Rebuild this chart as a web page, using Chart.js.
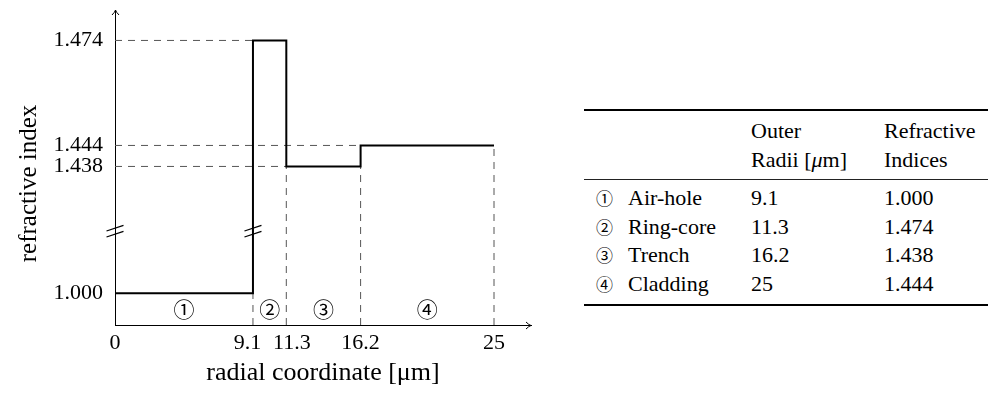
<!DOCTYPE html>
<html>
<head>
<meta charset="utf-8">
<script src="https://cdn.jsdelivr.net/npm/chart.js@4/dist/chart.umd.min.js"></script>
<style>
  html, body { margin: 0; padding: 0; background: #fff; }
  body { width: 989px; height: 398px; position: relative; overflow: hidden;
         font-family: "Liberation Serif", "Times New Roman", serif; color: #000; }
  #wrap { position: absolute; left: 0; top: 0; width: 560px; height: 398px; }
  #tbl { position: absolute; left: 584px; top: 109px; width: 404px;
         border-collapse: separate; border-spacing: 0; table-layout: fixed;
         font-family: "Liberation Serif", "Times New Roman", serif; font-size: 22px; }
  #tbl td { padding: 0; vertical-align: top; white-space: nowrap;
            font-family: "Liberation Serif", "Times New Roman", serif; }
  #tbl thead td { border-top: 2px solid #000; border-bottom: 1px solid #222;
                  padding-top: 5px; padding-bottom: 5px; line-height: 29px; }
  #tbl tbody td { line-height: 28.5px; }
  #tbl tbody tr:first-child td { padding-top: 4px; }
  #tbl tbody tr:last-child td { padding-bottom: 6px; border-bottom: 2px solid #000; }
  #tbl td.c1 { padding-left: 12px; }
  #tbl .mk { display: inline-block; width: 32px; font-family: "Noto Sans CJK JP", "DejaVu Sans", sans-serif; font-size: 17px; }
</style>
</head>
<body>
<div id="wrap"><canvas id="c" width="560" height="398"></canvas></div>
<table id="tbl">
  <colgroup><col style="width:167px"><col style="width:133px"><col style="width:104px"></colgroup>
  <thead>
    <tr><td class="c1"></td><td>Outer<br>Radii [<i>μ</i>m]</td><td>Refractive<br>Indices</td></tr>
  </thead>
  <tbody id="tbody"></tbody>
</table>
<script>
// ---------------- data ----------------
const regionMarks   = ['①', '②', '③', '④'];
const regionNames   = ['Air-hole', 'Ring-core', 'Trench', 'Cladding'];
const outerRadii    = [9.1, 11.3, 16.2, 25];          // µm
const indices       = [1.000, 1.474, 1.438, 1.444];   // refractive index
const xTickValues   = [0, 9.1, 11.3, 16.2, 25];
const xTickLabels   = ['0', '9.1', '11.3', '16.2', '25'];
const yTickValues   = [1.000, 1.438, 1.444, 1.474];
const yTickLabels   = ['1.000', '1.438', '1.444', '1.474'];
const radiiLabels   = ['9.1', '11.3', '16.2', '25'];
const indexLabels   = ['1.000', '1.474', '1.438', '1.444'];

// ---------------- broken y axis ----------------
const BREAK_AT = 1.2;          // values below this sit on the lower stub
const LOWER_SHIFT = 0.4018;    // shift of the lower stub on the axis
const toAxis = v => (v < BREAK_AT ? v + LOWER_SHIFT : v);
const Y_MAX = 1.4827, Y_MIN = 1.3927, Y_BREAK = 1.4195;
const X_MIN = 0, X_MAX = 27.44;

// ---------------- table ----------------
const tb = document.getElementById('tbody');
regionNames.forEach((name, i) => {
  const tr = document.createElement('tr');
  tr.innerHTML = '<td class="c1"><span class="mk">' + regionMarks[i] + '</span>' + name +
                 '</td><td>' + radiiLabels[i] + '</td><td>' + indexLabels[i] + '</td>';
  tb.appendChild(tr);
});

// ---------------- series ----------------
const stepPts = [];
let inner = 0;
indices.forEach((n, i) => {
  stepPts.push({ x: inner, y: toAxis(n) }, { x: outerRadii[i], y: toAxis(n) });
  inner = outerRadii[i];
});

const guideSets = [];
const dashStyle = { borderColor: '#555', borderWidth: 1, borderDash: [7, 6],
                    pointRadius: 0, fill: false, order: 2, tension: 0 };
indices.forEach((n, i) => {
  const start = i === 0 ? 0 : outerRadii[i - 1];
  if (start > 0) {
    guideSets.push(Object.assign({ data: [{ x: 0, y: toAxis(n) }, { x: start, y: toAxis(n) }] }, dashStyle));
  }
  const lower = i < indices.length - 1 ? Math.min(toAxis(n), toAxis(indices[i + 1])) : toAxis(n);
  guideSets.push(Object.assign({ data: [{ x: outerRadii[i], y: Y_MIN }, { x: outerRadii[i], y: lower }] }, dashStyle));
});

// ---------------- decorations plugin ----------------
const decor = {
  id: 'decor',
  afterDraw(chart) {
    const { ctx, chartArea: a, scales: { x, y } } = chart;
    ctx.save();
    ctx.strokeStyle = '#000';
    ctx.fillStyle = '#000';
    // arrow heads
    ctx.lineWidth = 1;
    const L = Math.round(a.left) + 0.5, B = Math.round(a.bottom) + 0.5;
    ctx.beginPath();
    ctx.moveTo(L - 3.5, a.top + 5); ctx.quadraticCurveTo(L - 0.5, a.top + 2, L, a.top);
    ctx.quadraticCurveTo(L + 0.5, a.top + 2, L + 3.5, a.top + 5);
    ctx.moveTo(a.right - 5, B - 3.5); ctx.quadraticCurveTo(a.right - 2, B - 0.5, a.right, B);
    ctx.quadraticCurveTo(a.right - 2, B + 0.5, a.right - 5, B + 3.5);
    ctx.stroke();
    // break marks on y axis and on every vertical step crossing the break
    const yb = y.getPixelForValue(Y_BREAK);
    const xs = [a.left];
    for (let i = 1; i < stepPts.length; i++) {
      const p = stepPts[i - 1], q = stepPts[i];
      if (p.x === q.x && (p.y - Y_BREAK) * (q.y - Y_BREAK) < 0) xs.push(x.getPixelForValue(p.x));
    }
    ctx.lineWidth = 1.3;
    xs.forEach(px => {
      [-3, 3].forEach(d => {
        ctx.beginPath();
        ctx.moveTo(px - 8.5, yb + d + 2.8);
        ctx.lineTo(px + 8.5, yb + d - 2.8);
        ctx.stroke();
      });
    });
    // region marks
    ctx.font = '21px "Noto Sans CJK JP", "DejaVu Sans"';
    ctx.textAlign = 'center';
    ctx.textBaseline = 'middle';
    const ym = (y.getPixelForValue(toAxis(indices[0])) + a.bottom) / 2;
    let r0 = 0;
    regionMarks.forEach((m, i) => {
      ctx.fillText(m, x.getPixelForValue((r0 + outerRadii[i]) / 2), ym);
      r0 = outerRadii[i];
    });
    // y axis title
    const t = chart.options.scales.y.title;
    ctx.font = '25px "Liberation Serif"';
    ctx.textBaseline = 'alphabetic';
    ctx.translate(36, 183.5);
    ctx.rotate(-Math.PI / 2);
    ctx.fillText(t.text, 0, 0);
    ctx.restore();
  }
};

Chart.defaults.font.family = '"Liberation Serif", "Times New Roman", serif';
Chart.defaults.color = '#000';

new Chart(document.getElementById('c'), {
  type: 'line',
  data: {
    datasets: [
      { data: stepPts, borderColor: '#000', borderWidth: 2, pointRadius: 0, fill: false,
        tension: 0, order: 0, borderJoinStyle: 'miter', borderCapStyle: 'butt' },
      ...guideSets
    ]
  },
  options: {
    responsive: false,
    animation: false,
    events: [],
    layout: { padding: { left: 0, top: 10, right: 29, bottom: 0 } },
    plugins: { legend: { display: false }, tooltip: { enabled: false } },
    scales: {
      x: {
        type: 'linear', min: X_MIN, max: X_MAX,
        grid: { display: false, drawTicks: false },
        border: { display: true, color: '#000', width: 1 },
        afterBuildTicks: s => { s.ticks = xTickValues.map(v => ({ value: v })); },
        afterFit: s => { s.height = 73; s.paddingLeft = 0; s.paddingRight = 0; },
        ticks: {
          autoSkip: false, maxRotation: 0, minRotation: 0, padding: 5,
          font: { size: 22 },
          callback: (v, i) => {
            let lab = xTickLabels[i];
            if (i + 1 < xTickValues.length && xTickValues[i + 1] - xTickValues[i] < 3) lab = lab + '\u2002';
            if (i > 0 && xTickValues[i] - xTickValues[i - 1] < 3) lab = '\u2002' + lab;
            return lab;
          }
        },
        title: { display: true, text: 'radial coordinate [μm]', font: { size: 26 },
                 padding: { top: 0, bottom: 9 } }
      },
      y: {
        type: 'linear', min: Y_MIN, max: Y_MAX,
        grid: { display: false, drawTicks: false },
        border: { display: true, color: '#000', width: 1 },
        afterBuildTicks: s => { s.ticks = yTickValues.map(v => ({ value: toAxis(v) })); },
        afterFit: s => { s.width = 115; s.paddingTop = 0; s.paddingBottom = 0; },
        ticks: { autoSkip: false, padding: 12, font: { size: 22 },
                 callback: (v, i) => yTickLabels[i] },
        title: { display: false, text: 'refractive index' }
      }
    }
  },
  plugins: [decor]
});
</script>
</body>
</html>
